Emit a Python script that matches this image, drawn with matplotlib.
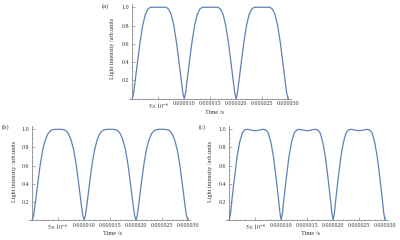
import matplotlib
matplotlib.use("Agg")
import matplotlib.pyplot as plt
from matplotlib.ticker import FixedLocator, FixedFormatter, MultipleLocator

plt.rcParams['font.family'] = ['Liberation Serif', 'DejaVu Serif']
plt.rcParams['mathtext.fontset'] = 'stix'

# time samples (microseconds); extra samples around the minima
time_us = [0.0, 0.25, 0.5, 1.0, 1.5, 2.0, 2.5, 3.0, 3.5, 4.0, 4.5,
           5.0, 5.5, 6.0, 6.5, 7.0, 7.5, 8.0, 8.5, 9.0, 9.5, 9.75,
           10.0, 10.25, 10.5, 11.0, 11.5, 12.0, 12.5, 13.0, 13.5, 14.0, 14.5,
           15.0, 15.5, 16.0, 16.5, 17.0, 17.5, 18.0, 18.5, 19.0, 19.5, 19.75,
           20.0, 20.25, 20.5, 21.0, 21.5, 22.0, 22.5, 23.0, 23.5, 24.0, 24.5,
           25.0, 25.5, 26.0, 26.5, 27.0, 27.5, 28.0, 28.5, 29.0, 29.5, 29.75,
           30.0]

intensity_a = [0.00, 0.06, 0.17, 0.40, 0.62, 0.80, 0.92, 0.98, 1.00, 1.00, 1.00,
               1.00, 1.00, 1.00, 1.00, 0.98, 0.92, 0.80, 0.62, 0.40, 0.17, 0.06,
               0.00, 0.06, 0.17, 0.40, 0.62, 0.80, 0.92, 0.98, 1.00, 1.00, 1.00,
               1.00, 1.00, 1.00, 1.00, 0.98, 0.92, 0.80, 0.62, 0.40, 0.17, 0.06,
               0.00, 0.06, 0.17, 0.40, 0.62, 0.80, 0.92, 0.98, 1.00, 1.00, 1.00,
               1.00, 1.00, 1.00, 1.00, 0.98, 0.92, 0.80, 0.62, 0.40, 0.17, 0.06,
               0.00]

intensity_b = [0.00, 0.05, 0.15, 0.38, 0.60, 0.77, 0.88, 0.95, 0.985, 0.997, 1.00,
               1.00, 1.00, 0.997, 0.985, 0.95, 0.88, 0.77, 0.60, 0.38, 0.15, 0.05,
               0.00, 0.05, 0.15, 0.38, 0.60, 0.77, 0.88, 0.95, 0.985, 0.997, 1.00,
               1.00, 1.00, 0.997, 0.985, 0.95, 0.88, 0.77, 0.60, 0.38, 0.15, 0.05,
               0.00, 0.05, 0.15, 0.38, 0.60, 0.77, 0.88, 0.95, 0.985, 0.997, 1.00,
               1.00, 1.00, 0.997, 0.985, 0.95, 0.88, 0.77, 0.60, 0.38, 0.15, 0.05,
               0.00]

intensity_c = [0.00, 0.08, 0.22, 0.47, 0.70, 0.86, 0.96, 0.995, 1.00, 0.995, 0.988,
               0.985, 0.988, 0.995, 1.00, 0.995, 0.96, 0.86, 0.70, 0.47, 0.22, 0.08,
               0.00, 0.08, 0.22, 0.47, 0.70, 0.86, 0.96, 0.995, 1.00, 0.995, 0.988,
               0.985, 0.988, 0.995, 1.00, 0.995, 0.96, 0.86, 0.70, 0.47, 0.22, 0.08,
               0.00, 0.08, 0.22, 0.47, 0.70, 0.86, 0.96, 0.995, 1.00, 0.995, 0.988,
               0.985, 0.988, 0.995, 1.00, 0.995, 0.96, 0.86, 0.70, 0.47, 0.22, 0.08,
               0.00]

x_ticks = [5e-6, 10e-6, 15e-6, 20e-6, 25e-6, 30e-6]
x_tick_labels = [r"$5\times10^{-6}$", "0.000010", "0.000015", "0.000020", "0.000025", "0.000030"]
y_ticks = [0.2, 0.4, 0.6, 0.8, 1.0]
y_tick_labels = ["0.2", "0.4", "0.6", "0.8", "1.0"]
panel_labels = ["(a)", "(b)", "(c)"]
xlabel_text = "Time /s"
ylabel_text = "Light intensity /arb.units"

time_s = [t * 1e-6 for t in time_us]

line_color = "#5E81B5"
axis_color = "#8a8a8a"
text_color = "#333333"

fig = plt.figure(figsize=(4.0, 2.4), dpi=100)

specs = [
    dict(rect=[129.2 / 400, (240 - 98.7) / 240, 161.4 / 400, 95.1 / 240], y=intensity_a,
         label_xy=(105.7, 5.7), xlab=(0.53, -0.12), ylab=(-0.085, 0.53)),
    dict(rect=[29.2 / 400, (240 - 220) / 240, 161.1 / 400, 94.3 / 240], y=intensity_b,
         label_xy=(5.7, 126.7), xlab=(0.52, -0.117), ylab=(-0.078, 0.52)),
    dict(rect=[226.2 / 400, (240 - 220) / 240, 161.4 / 400, 94.3 / 240], y=intensity_c,
         label_xy=(202.7, 126.7), xlab=(0.52, -0.117), ylab=(-0.082, 0.52)),
]

for spec, plabel in zip(specs, panel_labels):
    ax = fig.add_axes(spec["rect"])
    ax.plot(time_s, spec["y"], color=line_color, lw=0.9, clip_on=False, zorder=3)
    ax.set_xlim(-0.6e-6, 30.5e-6)
    ax.set_ylim(0, 1.04)
    ax.spines['top'].set_visible(False)
    ax.spines['right'].set_visible(False)
    ax.spines['left'].set_position(('data', 0))
    for s in ('left', 'bottom'):
        ax.spines[s].set_color(axis_color)
        ax.spines[s].set_linewidth(0.6)
    ax.xaxis.set_major_locator(FixedLocator(x_ticks))
    ax.xaxis.set_major_formatter(FixedFormatter(x_tick_labels))
    ax.yaxis.set_major_locator(FixedLocator(y_ticks))
    ax.yaxis.set_major_formatter(FixedFormatter(y_tick_labels))
    ax.xaxis.set_minor_locator(MultipleLocator(1e-6))
    ax.yaxis.set_minor_locator(MultipleLocator(0.05))
    ax.tick_params(which='major', direction='in', length=2.0, width=0.5, color=axis_color,
                   labelsize=4.3, labelcolor=text_color, pad=2)
    ax.tick_params(which='minor', direction='in', length=1.0, width=0.4, color=axis_color)
    ax.set_xlabel(xlabel_text, fontsize=4.6, color=text_color)
    ax.set_ylabel(ylabel_text, fontsize=4.4, color=text_color)
    ax.xaxis.set_label_coords(*spec["xlab"])
    ax.yaxis.set_label_coords(*spec["ylab"])
    ax.patch.set_alpha(0)
    lx, ly = spec["label_xy"]
    fig.text(lx / 400, 1 - ly / 240, plabel, fontsize=4.8, color=text_color, ha='center', va='center')

fig.savefig("out.png", dpi=100)
